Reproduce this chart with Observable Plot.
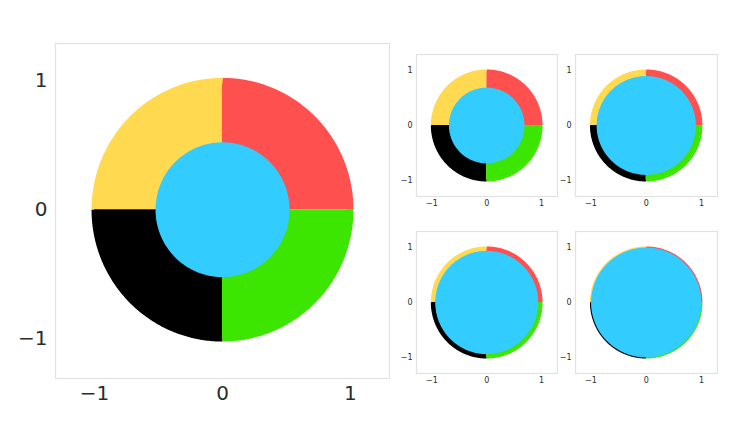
<!DOCTYPE html>
<html><head><meta charset="utf-8">
<script src="https://cdn.jsdelivr.net/npm/d3@7"></script>
<script src="https://cdn.jsdelivr.net/npm/@observablehq/plot@0.6"></script>
<style>
html,body{margin:0;padding:0;background:#fff;}
#root{position:relative;width:736px;height:432px;overflow:hidden;background:#fff;}
#root > div{position:absolute;}
</style></head><body><div id="root"></div>
<script>
// ---- data ----
const quadrantNames = ["upper right", "upper left", "lower left", "lower right"];
const quadrantStartDeg = [0, 90, 180, 270];
const quadrantColors = ["#ff5050", "#ffd94f", "#000000", "#3de600"];
const outerRadius = 1;
const panelNames = ["main", "a", "b", "c", "d"];
const innerRadii = [0.5, 0.67, 0.88, 0.92, 0.98];
const innerColor = "#33ccff";
const tickValues = [-1, 0, 1];

// ---- layout ----
const layouts = [
  {left: 0,   top: 0,   width: 400, height: 410, ml: 55, mr: 11, mt: 43, mb: 32, font: 20, xpad: 7, ypad: 8, sw: 6, xd: [-1.305, 1.305], yd: [-1.31, 1.29]},
  {left: 400, top: 40,  width: 165, height: 170, ml: 16, mr: 8,  mt: 14, mb: 14, font: 8, xpad: 4, ypad: 4, sw: 2, xd: [-1.28, 1.29], yd: [-1.29, 1.29]},
  {left: 559, top: 40,  width: 166, height: 170, ml: 16, mr: 8,  mt: 14, mb: 14, font: 8, xpad: 4, ypad: 4, sw: 2, xd: [-1.28, 1.29], yd: [-1.29, 1.29]},
  {left: 400, top: 217, width: 165, height: 170, ml: 16, mr: 8,  mt: 14, mb: 14, font: 8, xpad: 4, ypad: 4, sw: 2, xd: [-1.28, 1.29], yd: [-1.29, 1.29]},
  {left: 559, top: 217, width: 166, height: 170, ml: 16, mr: 8,  mt: 14, mb: 14, font: 8, xpad: 4, ypad: 4, sw: 2, xd: [-1.28, 1.29], yd: [-1.29, 1.29]}
];

function arc(r, a0, a1, n = 120) {
  return d3.range(n + 1).map(k => {
    const t = (a0 + (a1 - a0) * k / n) * Math.PI / 180;
    return {x: r * Math.cos(t), y: r * Math.sin(t)};
  });
}

const fmt = d3.format("d");
const root = document.getElementById("root");
panelNames.forEach((name, i) => {
  const L = layouts[i];
  const r = innerRadii[i];
  const marks = [Plot.frame({stroke: "#e2e2e2", strokeWidth: 1.2})];
  quadrantNames.forEach((q, j) => {
    const pts = arc(outerRadius, quadrantStartDeg[j], quadrantStartDeg[j] + 90);
    marks.push(Plot.areaY(pts, {x: "x", y1: 0, y2: "y", fill: quadrantColors[j]}));
    marks.push(Plot.line(pts, {x: "x", y: "y", stroke: quadrantColors[j], strokeWidth: L.sw, strokeLinecap: "butt"}));
  });
  const half = arc(r, 0, 180);
  marks.push(Plot.areaY(half, {x: "x", y1: d => -d.y, y2: "y", fill: innerColor}));
  marks.push(Plot.line(arc(r, 0, 360, 240), {x: "x", y: "y", stroke: innerColor, strokeWidth: L.sw}));

  const svg = Plot.plot({
    width: L.width, height: L.height,
    marginLeft: L.ml, marginRight: L.mr, marginTop: L.mt, marginBottom: L.mb,
    x: {domain: L.xd, ticks: tickValues, tickFormat: fmt, tickSize: 0, tickPadding: L.xpad, label: null},
    y: {domain: L.yd, ticks: tickValues, tickFormat: fmt, tickSize: 0, tickPadding: L.ypad, label: null},
    style: {fontSize: L.font + "px", fontFamily: "'DejaVu Sans', sans-serif", color: "#2b2b2b", background: "transparent"},
    marks
  });
  const wrap = document.createElement("div");
  wrap.style.left = L.left + "px";
  wrap.style.top = L.top + "px";
  wrap.appendChild(svg);
  root.appendChild(wrap);
});
</script></body></html>
